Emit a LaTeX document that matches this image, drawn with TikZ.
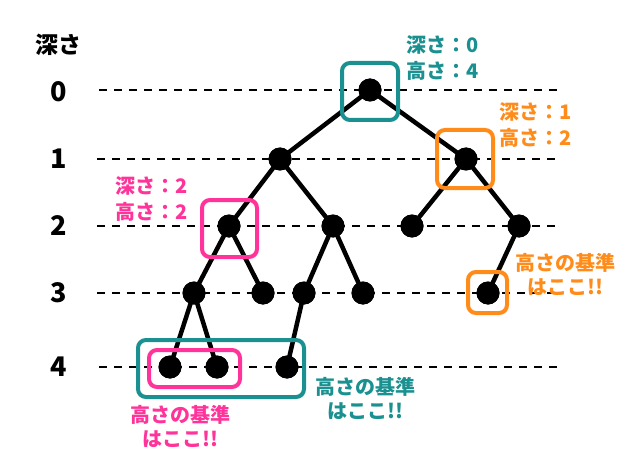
\documentclass[tikz,border=0pt]{standalone}
\usepackage{fontspec}
\setmainfont{Noto Sans CJK JP}
\definecolor{tealc}{HTML}{1A9090}
\definecolor{pinkc}{HTML}{FF3399}
\definecolor{orangec}{HTML}{FF8C1A}
\tikzset{
  vtx/.style={circle,fill=black,minimum size=23pt,inner sep=0pt},
  edge/.style={line width=4.5pt,black},
  level/.style={line width=2pt,dash pattern=on 8pt off 7pt},
  hbox/.style={line width=4pt,rounded corners=8pt},
  lbl/.style={font=\fontsize{20}{26}\selectfont\bfseries,align=left,inner sep=0pt},
  clbl/.style={font=\fontsize{20}{24}\selectfont\bfseries,align=center,inner sep=0pt},
  dlbl/.style={font=\fontsize{27}{30}\selectfont\bfseries,inner sep=0pt},
}
\begin{document}
\begin{tikzpicture}[x=1pt,y=-1pt]
\useasboundingbox (0,0) rectangle (640,468);
% level lines
\coordinate (l0a) at (99,90);  \coordinate (l0b) at (563,90);
\coordinate (l1a) at (97,159); \coordinate (l1b) at (560,159);
\coordinate (l2a) at (97,226); \coordinate (l2b) at (560,226);
\coordinate (l3a) at (97,293); \coordinate (l3b) at (560,293);
\coordinate (l4a) at (99,367); \coordinate (l4b) at (563,367);
\foreach \i in {0,...,4} \draw[level] (l\i a) -- (l\i b);
% depth labels
\node[dlbl] (hd) at (58,45) {\fontsize{23}{28}\selectfont 深さ};
\node[dlbl] (d0) at (59,92) {0};
\node[dlbl] (d1) at (59,159) {1};
\node[dlbl] (d2) at (59,226) {2};
\node[dlbl] (d3) at (59,293) {3};
\node[dlbl] (d4) at (59,367) {4};
% vertices
\node[vtx] (r) at (370,90) {};
\node[vtx] (a) at (280,159) {};
\node[vtx] (b) at (466,159) {};
\node[vtx] (a1) at (229,226) {};
\node[vtx] (a2) at (333,226) {};
\node[vtx] (b1) at (412,226) {};
\node[vtx] (b2) at (519,226) {};
\node[vtx] (a11) at (194,293) {};
\node[vtx] (a12) at (263,293) {};
\node[vtx] (a21) at (304,293) {};
\node[vtx] (a22) at (363,293) {};
\node[vtx] (b21) at (488,293) {};
\node[vtx] (a111) at (170,367) {};
\node[vtx] (a112) at (217,367) {};
\node[vtx] (a211) at (287,367) {};
% edges (drawn, then vertices redrawn on top)
\foreach \u/\v in {r/a,r/b,a/a1,a/a2,a1/a11,a1/a12,a2/a21,a2/a22,a11/a111,a11/a112,a21/a211,b/b1,b/b2,b2/b21}
  \draw[edge] (\u.center) -- (\v.center);
\foreach \n in {r,a,b,a1,a2,b1,b2,a11,a12,a21,a22,b21,a111,a112,a211}
  \fill (\n) circle (11.5pt);
% boxes
\draw[hbox,tealc] (342,63) rectangle (398,120);
\draw[hbox,orangec] (437,130) rectangle (493,188);
\draw[hbox,pinkc] (202,200) rectangle (257,257);
\draw[hbox,orangec] (468,272) rectangle (507,313);
\draw[hbox,tealc] (138,340) rectangle (304,397);
\draw[hbox,pinkc] (149,350) rectangle (240,387);
% labels
\node[lbl,tealc,anchor=west] (t0) at (406,58) {深さ：0\\高さ：4};
\node[lbl,orangec,anchor=west] (t1) at (499,125) {深さ：1\\高さ：2};
\node[lbl,pinkc,anchor=west] (t2) at (115,199) {深さ：2\\高さ：2};
\node[clbl,orangec] (k1) at (565,274) {高さの基準\\はここ!!};
\node[clbl,tealc] (k2) at (365,398) {高さの基準\\はここ!!};
\node[clbl,pinkc] (k3) at (180,426) {高さの基準\\はここ!!};
\end{tikzpicture}
\end{document}
